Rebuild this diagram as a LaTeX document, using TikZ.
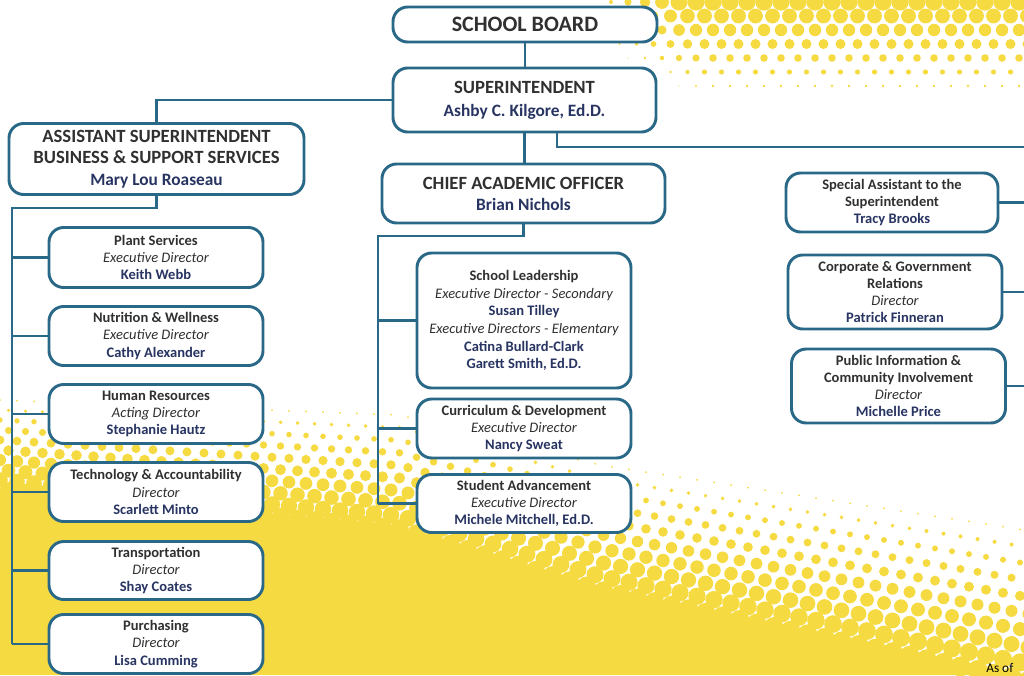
\documentclass[tikz,border=0pt]{standalone}
\usepackage{fontspec}
\setmainfont{Carlito}
\usetikzlibrary{calc}
\definecolor{ylw}{RGB}{246,218,66}
\definecolor{edge}{RGB}{42,104,136}
\definecolor{navy}{RGB}{40,52,98}
\definecolor{ink}{RGB}{48,48,48}
\newcommand\nmx[1]{{\color{navy}\bfseries #1}}
\newcommand\ttx[1]{{\bfseries #1}}
\newcommand\rlx[1]{{\itshape #1}}
\def\px{0.75pt}
\begin{document}
\begin{tikzpicture}[x=0.75pt,y=-0.75pt,
  bx/.style={draw=edge, line width=2.2pt, rounded corners=11pt, fill=white, align=center, text=ink, inner sep=1pt, font=\fontsize{10.9}{12.9}\selectfont},
  sm/.style={bx, minimum width=214*\px},
  ln/.style={draw=edge, line width=2pt}]
\useasboundingbox (0,0) rectangle (1024,675);
% ---------- background halftone ----------
\fill[ylw] (0,490) -- (400,528) -- (600,590) -- (1024,682) -- (1024,675) -- (0,675) -- cycle;
\foreach \j in {0,...,9}{
  \foreach \i in {0,...,61}{
    \pgfmathsetmacro\xx{\i*17+mod(\j,2)*8.5}
    \pgfmathsetmacro\ys{(\xx<400) ? (400+0.0375*\xx) : ((\xx<600) ? (415+0.25*(\xx-400)) : (465+0.153*(\xx-600)))}
    \pgfmathsetmacro\yy{\ys + \j*(90+0.0586*\xx)/9}
    \pgfmathsetmacro\rr{1+\j*(0.85+0.00015*\xx)}
    \fill[ylw] (\xx,\yy) circle[radius=\rr];
  }
}
\foreach \j in {0,...,7}{
  \foreach \i in {0,...,28}{
    \pgfmathsetmacro\xx{560+\i*17+mod(\j,2)*8.5}
    \pgfmathsetmacro\yy{2+\j*14}
    \pgfmathsetmacro\ye{(\xx<700) ? (60+0.4*(\xx-600)) : 102}
    \pgfmathsetmacro\rr{8.8*min(1,max(0,(\xx-590)/90))*max(0,1-\yy/\ye)}
    \ifdim\rr pt>0.5pt \fill[ylw] (\xx,\yy) circle[radius=\rr];\fi
  }
}
% ---------- nodes ----------
\node[bx, minimum width=264*\px, minimum height=35*\px, font=\fontsize{16.5}{18}\selectfont\bfseries] (sb) at (525,24.5) {SCHOOL BOARD};
\node[bx, minimum width=263*\px, minimum height=64*\px, font=\fontsize{14}{17.2}\selectfont] (sup) at (524.5,100) {\ttx{SUPERINTENDENT}\\\nmx{\fontsize{13}{17.2}\selectfont Ashby C. Kilgore, Ed.D.}};
\node[bx, minimum width=295*\px, minimum height=71*\px, font=\fontsize{14}{16}\selectfont] (asst) at (156.5,159) {\ttx{ASSISTANT SUPERINTENDENT}\\\ttx{BUSINESS \& SUPPORT SERVICES}\\\nmx{\fontsize{13}{16}\selectfont Mary Lou Roaseau}};
\node[bx, minimum width=283*\px, minimum height=59*\px, font=\fontsize{14}{15.8}\selectfont] (cao) at (523.5,193.5) {\ttx{CHIEF ACADEMIC OFFICER}\\\nmx{\fontsize{13}{15.8}\selectfont Brian Nichols}};
\node[bx, minimum width=212*\px, minimum height=59*\px] (spec) at (892,202.5) {\ttx{Special Assistant to the}\\\ttx{Superintendent}\\\nmx{Tracy Brooks}};
\node[sm, minimum height=74*\px] (corp) at (895,292) {\ttx{Corporate \& Government}\\\ttx{Relations}\\\rlx{Director}\\\nmx{Patrick Finneran}};
\node[sm, minimum height=74*\px] (pub) at (898.5,386) {\ttx{Public Information \&}\\\ttx{Community Involvement}\\\rlx{Director}\\\nmx{Michelle Price}};
\node[sm, minimum height=135*\px, font=\fontsize{10.9}{13.3}\selectfont] (lead) at (524,320.5) {\ttx{School Leadership}\\\rlx{Executive Director - Secondary}\\\nmx{Susan Tilley}\\\rlx{Executive Directors - Elementary}\\\nmx{Catina Bullard-Clark}\\\nmx{Garett Smith, Ed.D.}};
\node[sm, minimum height=59*\px] (curr) at (524,428.5) {\ttx{Curriculum \& Development}\\\rlx{Executive Director}\\\nmx{Nancy Sweat}};
\node[sm, minimum height=58*\px] (stu) at (524,503.5) {\ttx{Student Advancement}\\\rlx{Executive Director}\\\nmx{Michele Mitchell, Ed.D.}};
\node[sm, minimum height=60*\px] (plant) at (156,257.5) {\ttx{Plant Services}\\\rlx{Executive Director}\\\nmx{Keith Webb}};
\node[sm, minimum height=59*\px] (nut) at (156,336) {\ttx{Nutrition \& Wellness}\\\rlx{Executive Director}\\\nmx{Cathy Alexander}};
\node[sm, minimum height=59*\px] (hr) at (156,414) {\ttx{Human Resources}\\\rlx{Acting Director}\\\nmx{Stephanie Hautz}};
\node[sm, minimum height=59*\px] (tech) at (156,492) {\ttx{Technology \& Accountability}\\\rlx{Director}\\\nmx{Scarlett Minto}};
\node[sm, minimum height=58*\px] (trans) at (156,570.5) {\ttx{Transportation}\\\rlx{Director}\\\nmx{Shay Coates}};
\node[sm, minimum height=59*\px] (pur) at (156,644) {\ttx{Purchasing}\\\rlx{Director}\\\nmx{Lisa Cumming}};
\node[anchor=base west, inner sep=0pt, text=black, font=\fontsize{10}{12}\selectfont] (asof) at (986,672.5) {As of};
% ---------- connectors ----------
\coordinate (rt) at (1024,147);
\coordinate (ls) at (12,208);
\coordinate (cs) at (378,236);
\begin{scope}[ln]
\draw (sb.south) -- (sb.south |- sup.north);
\draw (sup.west) -| (asst.north);
\draw (sup.south) -- (sup.south |- cao.north);
\draw ($(sup.south)+(32.5,0)$) |- (rt);
\foreach \n in {spec,corp,pub} \draw (\n.east) -- (\n.east -| rt);
\draw (asst.south) |- (ls) -- (ls |- pur.west);
\foreach \n in {plant,nut,hr,tech,trans,pur} \draw (ls |- \n.west) -- (\n.west);
\draw (cao.south) |- (cs) -- (cs |- stu.west);
\foreach \n in {lead,curr,stu} \draw (cs |- \n.west) -- (\n.west);
\end{scope}
\end{tikzpicture}
\end{document}
